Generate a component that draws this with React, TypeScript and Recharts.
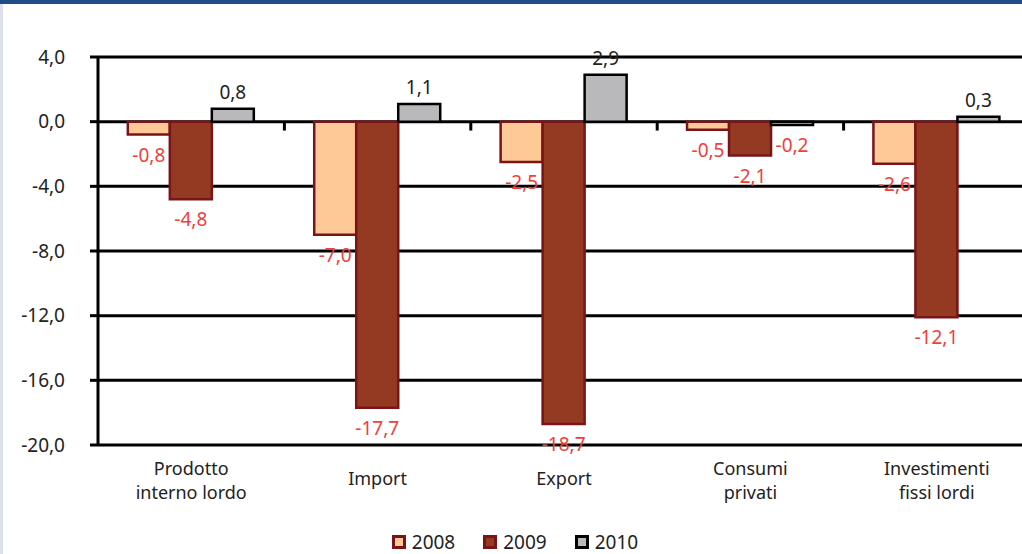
import { BarChart, Bar, XAxis, YAxis, CartesianGrid, Legend, LabelList, ReferenceLine } from 'recharts';

const categories = ['Prodotto\ninterno lordo', 'Import', 'Export', 'Consumi\nprivati', 'Investimenti\nfissi lordi'];
const values2008 = [-0.8, -7.0, -2.5, -0.5, -2.6];
const values2009 = [-4.8, -17.7, -18.7, -2.1, -12.1];
const values2010 = [0.8, 1.1, 2.9, -0.2, 0.3];
const yTicks = [4, 0, -4, -8, -12, -16, -20];

const series = [
  { key: 'y2008', name: '2008', fill: '#FFC896', stroke: '#7A1418' },
  { key: 'y2009', name: '2009', fill: '#943A22', stroke: '#7A1418' },
  { key: 'y2010', name: '2010', fill: '#B9B9BC', stroke: '#000000' },
];

const data = categories.map((name, i) => ({
  name,
  y2008: values2008[i],
  y2009: values2009[i],
  y2010: values2010[i],
}));

// tick marks on the zero line sit at the start of every category but the first
const boundaries = categories.slice(1);

const FONT = '"Noto Sans", "Open Sans", sans-serif';
const fmt = (v: number) => v.toFixed(1).replace('.', ',');

function CategoryTick({ x, y, payload }: any) {
  const lines = String(payload.value).split('\n');
  const start = lines.length === 1 ? 33 : 23;
  return (
    <g>
      {lines.map((line, i) => (
        <text
          key={i}
          x={x}
          y={y + start + i * 24}
          textAnchor="middle"
          dominantBaseline="central"
          fontSize={18}
          fontFamily={FONT}
          fill="#222"
        >
          {line}
        </text>
      ))}
    </g>
  );
}

function ValueLabel({ x, y, width, height, value }: any) {
  const top = Math.min(y, y + height);
  const bottom = Math.max(y, y + height);
  const neg = value < 0;
  return (
    <text
      x={x + width / 2}
      y={neg ? bottom + 20 : top - 17}
      textAnchor="middle"
      dominantBaseline="central"
      fontSize={19}
      fontFamily={FONT}
      fill={neg ? '#F0403A' : '#222'}
    >
      {fmt(value)}
    </text>
  );
}

function LegendBox() {
  return (
    <div style={{ height: 32, display: 'flex', justifyContent: 'center', alignItems: 'center', gap: 28, paddingTop: 8, boxSizing: 'border-box', fontFamily: FONT, fontSize: 19, lineHeight: '20px', color: '#222' }}>
      {series.map((s) => (
        <div key={s.key} style={{ display: 'flex', alignItems: 'center', gap: 6 }}>
          <span style={{ width: 8, height: 8, background: s.fill, border: `3px solid ${s.stroke}`, display: 'inline-block' }} />
          <span>{s.name}</span>
        </div>
      ))}
    </div>
  );
}

export default function App() {
  return (
    <div style={{ position: 'absolute', left: 0, top: 0, width: 1022, height: 554, overflow: 'hidden', background: '#fff' }}>
      <div style={{ position: 'absolute', left: 0, top: 0, width: 1022, height: 4, background: '#1E4D87' }} />
      <div style={{ position: 'absolute', left: 0, top: 4, width: 3, height: 550, background: '#DCE0EE' }} />
      <BarChart
        width={1030}
        height={554}
        data={data}
        margin={{ top: 57, right: 0, left: 0, bottom: 0 }}
        barCategoryGap="16%"
        barGap={0}
      >
        <CartesianGrid vertical={false} stroke="#000" strokeWidth={3} />
        <XAxis dataKey="name" axisLine={false} tickLine={false} tickSize={0} tickMargin={0} height={77} interval={0} tick={<CategoryTick />} />
        <YAxis
          domain={[-20, 4]}
          ticks={yTicks}
          width={98}
          tickSize={8}
          tickMargin={25}
          axisLine={{ stroke: '#000', strokeWidth: 3 }}
          tickLine={{ stroke: '#000', strokeWidth: 3 }}
          tickFormatter={fmt}
          tick={{ fontSize: 19, fontFamily: FONT, fill: '#222' }}
        />
        {boundaries.map((b) => (
          <ReferenceLine
            key={b}
            position="start"
            segment={[{ x: b, y: 0 }, { x: b, y: -0.55 }]}
            stroke="#000"
            strokeWidth={3}
          />
        ))}
        {series.map((s) => (
          <Bar key={s.key} dataKey={s.key} name={s.name} fill={s.fill} stroke={s.stroke} strokeWidth={2.5} isAnimationActive={false}>
            <LabelList dataKey={s.key} content={<ValueLabel />} />
          </Bar>
        ))}
        <Legend verticalAlign="bottom" height={32} content={<LegendBox />} />
      </BarChart>
    </div>
  );
}
